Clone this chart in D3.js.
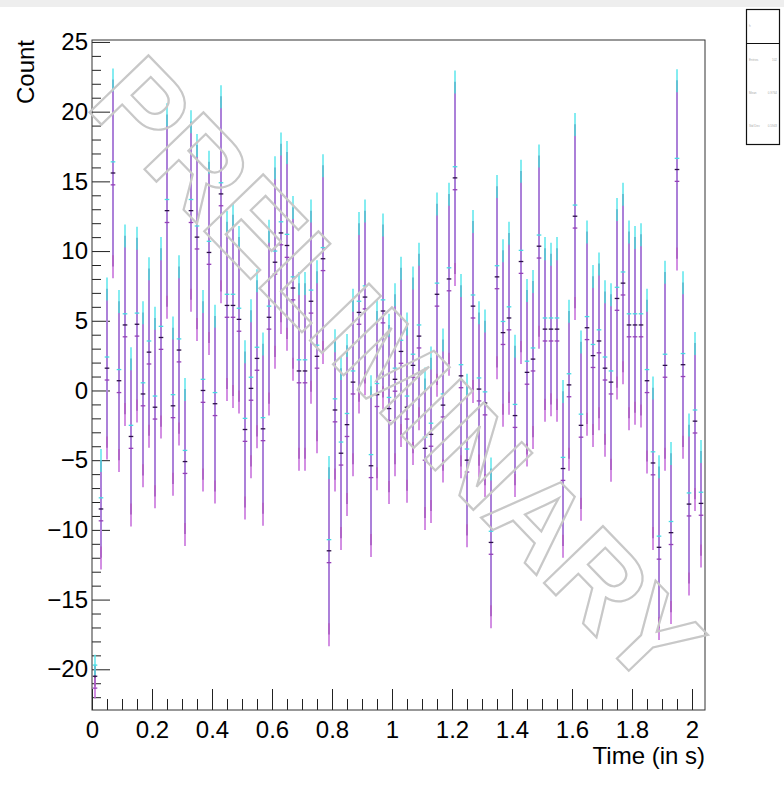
<!DOCTYPE html>
<html>
<head>
<meta charset="utf-8">
<script src="https://cdn.jsdelivr.net/npm/d3@7"></script>
<style>
body { margin: 0; background: #fff; }
svg text { font-family: "Liberation Sans", Arial, Helvetica, sans-serif; }
</style>
</head>
<body>
<svg id="chart" width="784" height="799"></svg>
<script>
// time histogram, 102 bins of 0.02 s
var binWidth = 0.02;
var nBins = 102;
var binCenters = d3.range(nBins).map(function(i) { return binWidth * (i + 0.5); });

// dark (middle) series
var countMid = [-20.5, -8.5, 1.6, 15.6, 0.7, 4.7, -3.3, 4.75, -0.25, 2.75,
  -1.2, 3.8, 12.9, -1.1, 2.9, -5.1, 12.9, 11.0, 0.0, 9.9,
  -0.95, 14.1, 6.1, 6.1, 5.1, -2.8, 0.15, 2.3, -2.75, 5.25,
  9.2, 11.3, 10.4, 7.35, 1.4, 1.4, 6.4, 2.45, 9.45, -11.5,
  -1.4, -4.5, -2.45, 0.6, 5.6, 6.7, -5.4, -0.3, 5.7, -1.3,
  0.8, 2.8, -1.2, 1.8, 3.9, -4.15, -3.15, 6.9, -1.05, 8.0,
  15.25, 1.05, -5.0, 6.05, 0.1, -0.9, -10.9, 8.15, 4.15, 5.2,
  -1.8, 9.25, 1.3, 2.25, 10.35, 4.4, 4.4, 4.4, -5.6, 0.4,
  12.5, -2.5, 4.5, 2.5, 3.55, 1.6, 0.6, 6.6, 7.7, 4.7,
  4.7, 4.7, 0.7, -5.2, -11.25, 1.8, -10.2, 15.85, 1.85, -8.15,
  -2.2, -8.1];

// cyan series
var countCyan = [-19.7, -7.7, 2.4, 16.4, 1.5, 5.5, -2.5, 5.55, 0.55, 3.55,
  -0.4, 4.6, 13.7, -0.3, 3.7, -4.3, 13.7, 11.8, 0.8, 10.7,
  -0.15, 14.9, 6.9, 6.9, 5.9, -2.0, 0.95, 3.1, -1.95, 6.05,
  10.0, 12.1, 11.2, 8.15, 2.2, 2.2, 7.2, 3.25, 10.25, -10.7,
  -0.6, -3.7, -1.65, 1.4, 6.4, 7.5, -4.6, 0.5, 6.5, -0.5,
  1.6, 3.6, -0.4, 2.6, 4.7, -3.35, -2.35, 7.7, -0.25, 8.8,
  16.05, 1.85, -4.2, 6.85, 0.9, -0.1, -10.1, 8.95, 4.95, 6.0,
  -1.0, 10.05, 2.1, 3.05, 11.15, 5.2, 5.2, 5.2, -4.8, 1.2,
  13.3, -1.7, 5.3, 3.3, 4.35, 2.4, 1.4, 7.4, 8.5, 5.5,
  5.5, 5.5, 1.5, -4.4, -10.45, 2.6, -9.4, 16.65, 2.65, -7.35,
  -1.4, -7.3];

// purple series
var countPurple = [-21.35, -9.35, 0.75, 14.75, -0.15, 3.85, -4.15, 3.9, -1.1, 1.9,
  -2.05, 2.95, 12.05, -1.95, 2.05, -5.95, 12.05, 10.15, -0.85, 9.05,
  -1.8, 13.25, 5.25, 5.25, 4.25, -3.65, -0.7, 1.45, -3.6, 4.4,
  8.35, 10.45, 9.55, 6.5, 0.55, 0.55, 5.55, 1.6, 8.6, -12.35,
  -2.25, -5.35, -3.3, -0.25, 4.75, 5.85, -6.25, -1.15, 4.85, -2.15,
  -0.05, 1.95, -2.05, 0.95, 3.05, -5.0, -4.0, 6.05, -1.9, 7.15,
  14.4, 0.2, -5.85, 5.2, -0.75, -1.75, -11.75, 7.3, 3.3, 4.35,
  -2.65, 8.4, 0.45, 1.4, 9.5, 3.55, 3.55, 3.55, -6.45, -0.45,
  11.65, -3.35, 3.65, 1.65, 2.7, 0.75, -0.25, 5.75, 6.85, 3.85,
  3.85, 3.85, -0.15, -6.05, -12.1, 0.95, -11.05, 15.0, 1.0, -9.0,
  -3.05, -8.95];

// error per bin (same for the three series)
var countErr = [0.75, 3.5, 5.7, 6.7, 5.7, 6.4, 5.6, 6.2, 5.85, 6.0,
  6.4, 6.4, 6.9, 5.6, 6.0, 5.2, 6.4, 6.6, 6.4, 6.5,
  6.3, 7.0, 6.0, 6.5, 5.9, 5.6, 5.6, 5.6, 6.1, 6.2,
  6.8, 6.4, 6.7, 5.8, 6.3, 6.3, 6.5, 6.1, 6.7, 6.0,
  5.0, 6.1, 5.7, 5.9, 6.4, 6.2, 5.7, 6.0, 6.2, 6.0,
  6.1, 6.0, 6.0, 6.3, 5.9, 5.0, 5.5, 6.5, 4.7, 6.1,
  6.9, 6.5, 5.4, 6.1, 5.5, 5.9, 5.3, 6.5, 5.9, 6.1,
  5.0, 6.5, 5.9, 5.6, 6.5, 5.8, 5.4, 5.8, 5.55, 5.3,
  6.6, 6.0, 6.9, 5.7, 5.55, 5.5, 6.3, 6.4, 6.4, 6.7,
  6.3, 6.5, 5.8, 5.4, 5.8, 6.7, 5.7, 6.4, 5.9, 5.7,
  5.6, 3.75];

var xTicksMajor = [0, 0.2, 0.4, 0.6, 0.8, 1, 1.2, 1.4, 1.6, 1.8, 2];
var yTicksMajor = [-20, -15, -10, -5, 0, 5, 10, 15, 20, 25];

// frame of the pad
var frame = {left: 92, top: 40, right: 705, bottom: 710};
var plotW = frame.right - frame.left;
var plotH = frame.bottom - frame.top;

var svg = d3.select("#chart");

// thin grey strip at the very top
svg.append("rect").attr("x", 0).attr("y", 0).attr("width", 784).attr("height", 7)
  .attr("fill", "#eeeeee");

var x = d3.scaleLinear().domain([0, 2.0433]).range([0, plotW]);
var y = d3.scaleLinear().domain([-22.92, 25.14]).range([plotH, 0]);

var g = svg.append("g")
  .attr("transform", "translate(" + frame.left + "," + frame.top + ")");

g.append("clipPath").attr("id", "plotclip")
  .append("rect").attr("width", plotW).attr("height", plotH);

var minusFmt = function(d) { return d < 0 ? "\u2212" + Math.abs(d) : String(d); };

// y axis: minor ticks every 1, major every 5 (pointing inside)
var yMinor = d3.range(-22, 26).filter(function(d) { return d % 5 != 0; });
g.append("g").attr("class", "axis")
  .call(d3.axisLeft(y).tickValues(yMinor).tickSize(-9).tickFormat(""));
g.append("g").attr("class", "axis")
  .call(d3.axisLeft(y).tickValues(yTicksMajor).tickSize(-18).tickPadding(4).tickFormat(minusFmt));

// x axis: minor ticks every 0.05, major every 0.2
var xMinor = d3.range(0, 41).map(function(k) { return k * 0.05; })
  .filter(function(d, k) { return k % 4 != 0; });
g.append("g").attr("class", "axis")
  .attr("transform", "translate(0," + plotH + ")")
  .call(d3.axisBottom(x).tickValues(xMinor).tickSize(-11).tickFormat(""));
g.append("g").attr("class", "axis")
  .attr("transform", "translate(0," + plotH + ")")
  .call(d3.axisBottom(x).tickValues(xTicksMajor).tickSize(-21).tickPadding(11)
    .tickFormat(d3.format("")));

g.selectAll(".axis .domain").remove();
g.selectAll(".axis line").attr("stroke", "#222").attr("stroke-width", 1);
g.selectAll(".axis text").attr("font-size", "24px").attr("fill", "#000");

// series: drawn dark first, then cyan, then purple
var series = [
  {vals: countMid, line: "#4a2470", tick: "#2c1048"},
  {vals: countCyan, line: "#5ce6ec", tick: "#45dbe2"},
  {vals: countPurple, line: "#c46ada", tick: "#9440b6"}
];

var bars = g.append("g").attr("clip-path", "url(#plotclip)");

series.forEach(function(s) {
  bars.selectAll(null)
    .data(binCenters)
    .enter()
    .append("line")
    .attr("x1", function(d) { return x(d); })
    .attr("x2", function(d) { return x(d); })
    .attr("y1", function(d, i) { return y(s.vals[i] + countErr[i]); })
    .attr("y2", function(d, i) { return y(s.vals[i] - countErr[i]); })
    .attr("stroke", s.line)
    .attr("stroke-width", 1.5);
});

series.forEach(function(s) {
  bars.selectAll(null)
    .data(binCenters)
    .enter()
    .append("line")
    .attr("x1", function(d) { return x(d - binWidth / 2) + 0.7; })
    .attr("x2", function(d) { return x(d + binWidth / 2) - 0.7; })
    .attr("y1", function(d, i) { return y(s.vals[i]); })
    .attr("y2", function(d, i) { return y(s.vals[i]); })
    .attr("stroke", s.tick)
    .attr("stroke-width", 1.3);
});

// PRELIMINARY watermark (outlined, not clipped)
svg.append("text")
  .attr("transform", "translate(398,370) rotate(46)")
  .attr("text-anchor", "middle")
  .attr("dy", "0.36em")
  .attr("font-size", "119px")
  .attr("font-weight", "bold")
  .attr("fill", "none")
  .attr("stroke", "#c8c8c8")
  .attr("stroke-width", 2.2)
  .text("PRELIMINARY");

// frame
g.append("rect")
  .attr("width", plotW).attr("height", plotH)
  .attr("fill", "none").attr("stroke", "#333").attr("stroke-width", 1);

// axis titles
svg.append("text")
  .attr("transform", "translate(34,40) rotate(-90)")
  .attr("text-anchor", "end")
  .attr("font-size", "24px")
  .text("Count");

svg.append("text")
  .attr("x", frame.right).attr("y", 764)
  .attr("text-anchor", "end")
  .attr("font-size", "24px")
  .text("Time (in s)");

// statistics box
var stats = svg.append("g");
stats.append("rect")
  .attr("x", 746.5).attr("y", 9.5).attr("width", 33).attr("height", 135)
  .attr("fill", "#fff").attr("stroke", "#111").attr("stroke-width", 1.2);
stats.append("line")
  .attr("x1", 746.5).attr("x2", 779.5).attr("y1", 43.5).attr("y2", 43.5)
  .attr("stroke", "#111").attr("stroke-width", 1.2);
var statLabels = ["h", "Entries", "Mean", "Std Dev"];
var statValues = ["", "102", "0.9764", "0.5943"];
var statY = [27, 61, 94, 127];
statLabels.forEach(function(lab, i) {
  stats.append("text").attr("x", 749).attr("y", statY[i])
    .attr("font-size", "3px").attr("fill", "#aaa").text(lab);
  stats.append("text").attr("x", 777).attr("y", statY[i]).attr("text-anchor", "end")
    .attr("font-size", "3px").attr("fill", "#aaa").text(statValues[i]);
});
</script>
</body>
</html>
